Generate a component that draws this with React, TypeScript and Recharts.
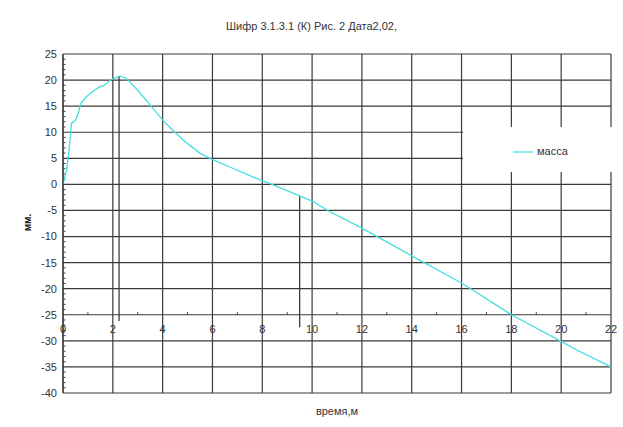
import {
  LineChart,
  Line,
  XAxis,
  YAxis,
  CartesianGrid,
  Legend,
  ReferenceLine,
  ReferenceDot,
} from 'recharts';

// time, minutes
const times = [
  0, 0.14, 0.23, 0.34, 0.5, 0.61, 0.71, 0.94, 1.16, 1.47, 1.65, 1.94, 2.28, 2.55, 3.01, 3.68,
  4.06, 4.82, 5.49, 5.98, 6.83, 7.99, 8.37, 9.5, 10.05, 10.7, 12.0, 14.0, 16.0, 16.4, 18.0,
  20.0, 20.6, 22.0,
];
// mm
const masses = [
  0, 2.7, 5.9, 11.7, 12.3, 13.6, 15.5, 16.8, 17.7, 18.7, 19.0, 20.1, 20.8, 20.3, 18.0, 14.2,
  12.0, 8.5, 6.0, 4.8, 3.05, 0.7, 0.06, -2.2, -3.3, -5.2, -8.4, -13.7, -18.9, -20.1, -25.0,
  -30.1, -31.7, -35.0,
];

const xLabels = [0, 2, 4, 6, 8, 10, 12, 14, 16, 18, 20, 22];
const xMinor = [1, 3, 5, 7, 9, 11, 13, 15, 17, 19, 21];
const yLabels = [-40, -35, -30, -25, -20, -15, -10, -5, 0, 5, 10, 15, 20, 25];
const yMinor = [
  -39, -38, -37, -36, -34, -33, -32, -31, -29, -28, -27, -26, -24, -23, -22, -21, -19, -18,
  -17, -16, -14, -13, -12, -11, -9, -8, -7, -6, -4, -3, -2, -1, 1, 2, 3, 4, 6, 7, 8, 9, 11,
  12, 13, 14, 16, 17, 18, 19, 21, 22, 23, 24,
];
// the two marker lines drawn on the original
const markers = [
  { x: 2.25, from: 20.8, to: -26.2 },
  { x: 9.5, from: -2.2, to: -27.4 },
];
const xAxisAt = -25;

const data = times.map((t, i) => ({ t, m: masses[i] }));

const font = '"Liberation Sans", Arial, sans-serif';
const gridColor = '#3a3a3a';
const textColor = '#333';

function LegendBox({ payload }: any) {
  const item = payload && payload[0];
  return (
    <div
      style={{
        position: 'absolute',
        left: 0,
        top: 0,
        width: 155,
        height: 45,
        background: '#fff',
      }}
    >
      <svg width={24} height={4} style={{ position: 'absolute', left: 50, top: 23 }}>
        <line x1={0} y1={2} x2={20} y2={2} stroke={item ? item.color : '#44e0dc'} strokeWidth={1.2} />
      </svg>
      <span
        style={{
          position: 'absolute',
          left: 74,
          top: 17,
          fontSize: 11,
          fontFamily: font,
          color: textColor,
          lineHeight: '14px',
        }}
      >
        {item ? item.value : ''}
      </span>
    </div>
  );
}

export default function App() {
  return (
    <div
      style={{
        position: 'absolute',
        left: 0,
        top: 0,
        width: 623,
        height: 427,
        background: '#fff',
        fontFamily: font,
      }}
    >
      <div
        style={{
          position: 'absolute',
          left: 0,
          width: 623,
          top: 20,
          textAlign: 'center',
          fontSize: 11,
          color: textColor,
        }}
      >
        Шифр 3.1.3.1 (К) Рис. 2 Дата2,02,
      </div>
      <div
        style={{
          position: 'absolute',
          left: 63,
          width: 548,
          top: 405,
          textAlign: 'center',
          fontSize: 11,
          color: textColor,
        }}
      >
        время,м
      </div>
      <div
        style={{
          position: 'absolute',
          left: 7,
          top: 217,
          width: 40,
          textAlign: 'center',
          fontSize: 10,
          fontWeight: 'bold',
          color: '#222',
          transform: 'rotate(-90deg)',
        }}
      >
        мм.
      </div>
      <LineChart
        width={623}
        height={427}
        data={data}
        margin={{ top: 54, right: 12, bottom: 34, left: 13 }}
        style={{ position: 'absolute', left: 0, top: 0 }}
      >
        <CartesianGrid
          stroke={gridColor}
          strokeWidth={1.2}
          verticalValues={xLabels}
          horizontalValues={yLabels}
        />
        <XAxis dataKey="t" type="number" domain={[0, 22]} ticks={xLabels} height={20} hide />
        <YAxis
          type="number"
          domain={[-40, 25]}
          ticks={yLabels}
          width={50}
          tickLine={false}
          tickSize={4}
          tickMargin={2}
          axisLine={{ stroke: gridColor, strokeWidth: 1.2 }}
          tick={{ fontSize: 11, fill: textColor, fontFamily: font }}
          interval={0}
        />
        {yMinor.map((v) => (
          <ReferenceLine
            key={`ym-${v}`}
            segment={[
              { x: 0, y: v },
              { x: 0.1, y: v },
            ]}
            stroke={gridColor}
            strokeWidth={1}
          />
        ))}
        {xMinor.map((v) => (
          <ReferenceLine
            key={`xm-${v}`}
            segment={[
              { x: v, y: xAxisAt },
              { x: v, y: xAxisAt + 0.5 },
            ]}
            stroke={gridColor}
            strokeWidth={1}
          />
        ))}
        {xLabels.map((v) => (
          <ReferenceDot
            key={`xl-${v}`}
            x={v}
            y={xAxisAt}
            r={0}
            fill="none"
            stroke="none"
            label={{
              value: v,
              position: 'bottom',
              offset: 10,
              fontSize: 11,
              fill: textColor,
              fontFamily: font,
            }}
          />
        ))}
        {markers.map((mk) => (
          <ReferenceLine
            key={`mk-${mk.x}`}
            segment={[
              { x: mk.x, y: mk.from },
              { x: mk.x, y: mk.to },
            ]}
            stroke={gridColor}
            strokeWidth={1.3}
          />
        ))}
        <Line
          type="linear"
          dataKey="m"
          name="масса"
          stroke="#44e0dc"
          strokeWidth={1.3}
          dot={false}
          isAnimationActive={false}
        />
        <Legend
          content={<LegendBox />}
          wrapperStyle={{
            position: 'absolute',
            left: 463,
            top: 127,
            width: 155,
            height: 0,
          }}
        />
      </LineChart>
    </div>
  );
}
